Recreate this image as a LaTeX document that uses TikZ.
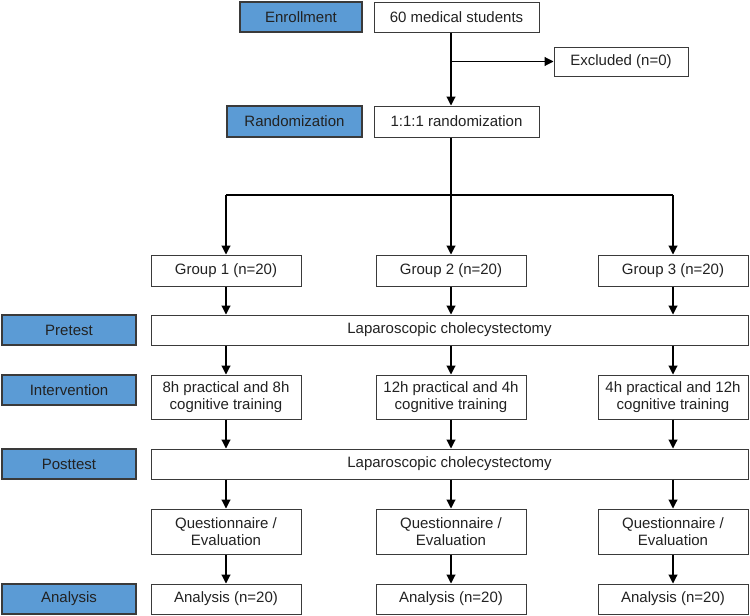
\documentclass[tikz,border=0pt]{standalone}
\usepackage{fontspec}
\setmainfont{Liberation Sans}
\usetikzlibrary{arrows.meta}
\definecolor{stageblue}{HTML}{5B9BD5}
\definecolor{edgegrey}{HTML}{3A3A3A}
\definecolor{txt}{HTML}{222222}
\begin{document}
\begin{tikzpicture}[x=1pt,y=-1pt,
  every node/.style={font=\fontsize{15}{17}\selectfont, text=txt, inner sep=0pt, align=center},
  box/.style={draw=edgegrey, line width=1pt, fill=white, minimum width=150pt, minimum height=30pt},
  stage/.style={draw=edgegrey, line width=1.2pt, fill=stageblue, minimum width=134pt, minimum height=30pt},
  arr/.style={draw=black, line width=1.1pt, -{Triangle[length=9pt,width=9pt]}},
  ln/.style={draw=black, line width=1.1pt}]
\useasboundingbox (0,0) rectangle (750,616);
% stage labels
\node[stage, minimum width=122pt] (enr) at (301,17) {Enrollment};
\node[stage, minimum width=135pt, minimum height=31pt] (rand) at (294.5,121.5) {Randomization};
\node[stage] (pre) at (69,330) {Pretest};
\node[stage] (int) at (69,390) {Intervention};
\node[stage] (post) at (69,464) {Posttest};
\node[stage] (ana) at (69,599) {Analysis};
% flow boxes
\node[box, minimum width=165pt] (stud) at (456.5,17) {60 medical students};
\node[box, minimum width=134pt, minimum height=29pt] (excl) at (621,61.5) {Excluded (n=0)};
\node[box, minimum width=165pt, minimum height=31pt] (rnd) at (456.5,121.5) {1:1:1 randomization};
\node[box, minimum height=31pt] (g1) at (226,270.5) {Group 1 (n=20)};
\node[box, minimum height=31pt] (g2) at (451,270.5) {Group 2 (n=20)};
\node[box, minimum height=31pt] (g3) at (673,270.5) {Group 3 (n=20)};
\node[box, minimum width=597pt] (lap1) at (449.5,330) {Laparoscopic cholecystectomy};
\node[box, minimum height=44pt] (i1) at (226,397) {8h practical and 8h\\cognitive training};
\node[box, minimum height=44pt] (i2) at (451,397) {12h practical and 4h\\cognitive training};
\node[box, minimum height=44pt] (i3) at (673,397) {4h practical and 12h\\cognitive training};
\node[box, minimum width=597pt] (lap2) at (449.5,464) {Laparoscopic cholecystectomy};
\node[box, minimum height=45pt] (q1) at (226,531.5) {Questionnaire /\\Evaluation};
\node[box, minimum height=45pt] (q2) at (451,531.5) {Questionnaire /\\Evaluation};
\node[box, minimum height=45pt] (q3) at (673,531.5) {Questionnaire /\\Evaluation};
\node[box] (a1) at (226,599) {Analysis (n=20)};
\node[box] (a2) at (451,599) {Analysis (n=20)};
\node[box] (a3) at (673,599) {Analysis (n=20)};
% connectors
\coordinate (split) at (451,195);
\draw[arr] (stud.south -| g2.center) -- (rnd.north -| g2.center);
\draw[arr] (excl.west -| g2.center) -- (excl.west);
\draw[ln] (rnd.south -| g2.center) -- (split);
\draw[ln] (split -| g1.center) -- (split -| g3.center);
\draw[arr] (split -| g1.center) -- (g1.north);
\draw[arr] (split) -- (g2.north);
\draw[arr] (split -| g3.center) -- (g3.north);
\foreach \c in {1,2,3}{
  \draw[arr] (g\c.south) -- (lap1.north -| g\c.center);
  \draw[arr] (lap1.south -| g\c.center) -- (i\c.north);
  \draw[arr] (i\c.south) -- (lap2.north -| i\c.center);
  \draw[arr] (lap2.south -| i\c.center) -- (q\c.north);
  \draw[arr] (q\c.south) -- (a\c.north);
}
\end{tikzpicture}
\end{document}
